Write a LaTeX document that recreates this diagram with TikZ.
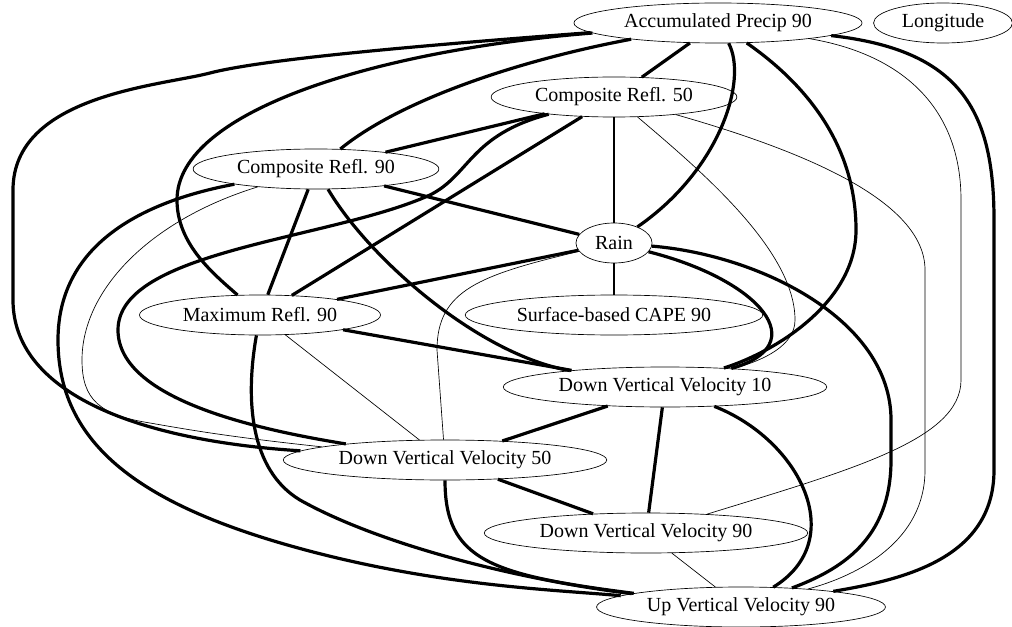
\documentclass[tikz,border=0pt]{standalone}
\usepackage{fontspec}
\setmainfont{Liberation Serif}
\usetikzlibrary{shapes.geometric}

\begin{document}
\begin{tikzpicture}[x=0.75pt, y=-0.75pt,
    varnode/.style={draw, ellipse, line width=0.5pt, inner xsep=6pt, inner ysep=2pt,
        minimum height=30pt, font=\fontsize{15}{18}\selectfont},
    strong/.style={line width=2.4pt},
    moderate/.style={line width=1.4pt},
    mild/.style={line width=0.9pt},
    weak/.style={line width=0.5pt}]
\useasboundingbox (0,0) rectangle (1012,627);
% draw variables
    \node[varnode] (ap) at (718,23) {Accumulated Precip 90};
    \node[varnode] (lon) at (943,23) {Longitude};
    \node[varnode] (cr50) at (614,97) {Composite Refl. 50};
    \node[varnode] (cr90) at (316,169) {Composite Refl. 90};
    \node[varnode] (rain) at (614,243) {Rain};
    \node[varnode] (mr90) at (260,315) {Maximum Refl. 90};
    \node[varnode] (cape) at (614,315) {Surface-based CAPE 90};
    \node[varnode] (dvv10) at (665,387) {Down Vertical Velocity 10};
    \node[varnode] (dvv50) at (445,460) {Down Vertical Velocity 50};
    \node[varnode] (dvv90) at (646,533) {Down Vertical Velocity 90};
    \node[varnode] (uvv90) at (741,607) {Up Vertical Velocity 90};
% links from accumulated precip
    \draw[strong] (ap) -- (cr50);
    \draw[strong] (ap) .. controls (748,80) and (720,170) .. (rain);
    \draw[strong] (ap) .. controls (800,80) and (856,140) .. (856,230) .. controls (856,300) and (780,350) .. (dvv10);
    \draw[weak] (ap) .. controls (905,55) and (961,110) .. (961,200) -- (961,380) .. controls (961,440) and (850,470) .. (dvv90);
    \draw[strong] (ap) .. controls (960,50) and (994,110) .. (994,220) -- (994,470) .. controls (994,560) and (900,580) .. (uvv90);
    \draw[strong] (ap) .. controls (400,47) and (260,60) .. (210,73) .. controls (160,86) and (13,95) .. (13,190) -- (13,300) .. controls (13,390) and (130,440) .. (dvv50);
    \draw[strong] (ap) .. controls (380,50) and (177,110) .. (177,200) .. controls (177,245) and (215,275) .. (mr90);
    \draw[strong] (ap) .. controls (520,60) and (400,100) .. (cr90);
% links from composite refl. 50
    \draw[strong] (cr50) -- (cr90);
    \draw[strong] (cr50) .. controls (470,135) and (470,175) .. (430,195) .. controls (330,240) and (118,250) .. (118,330) .. controls (118,400) and (260,430) .. (dvv50);
    \draw[strong] (cr50) -- (mr90);
    \draw[moderate] (cr50) -- (rain);
    \draw[weak] (cr50) .. controls (700,170) and (795,250) .. (795,320) .. controls (795,345) and (765,360) .. (dvv10);
    \draw[weak] (cr50) .. controls (800,150) and (925,200) .. (925,270) -- (925,470) .. controls (925,540) and (860,575) .. (uvv90);
% links from composite refl. 90
    \draw[strong] (cr90) -- (rain);
    \draw[strong] (cr90) -- (mr90);
    \draw[strong] (cr90) .. controls (370,260) and (480,355) .. (dvv10);
    \draw[strong] (cr90) .. controls (150,200) and (58,240) .. (58,340) .. controls (58,450) and (150,510) .. (317,553) .. controls (450,587) and (560,590) .. (uvv90);
    \draw[weak] (cr90) .. controls (150,220) and (82,290) .. (82,360) .. controls (82,400) and (100,415) .. (150,423) .. controls (190,430) and (230,437) .. (dvv50);
% links from rain
    \draw[strong] (rain) -- (mr90);
    \draw[mild] (rain) -- (cape);
    \draw[strong] (rain) .. controls (760,280) and (815,345) .. (dvv10);
    \draw[strong] (rain) .. controls (760,255) and (891,320) .. (891,420) -- (891,460) .. controls (891,540) and (840,570) .. (uvv90);
    \draw[weak] (rain) .. controls (480,275) and (437,290) .. (437,350) -- (dvv50);
% links from maximum refl. 90
    \draw[strong] (mr90) -- (dvv10);
    \draw[weak] (mr90) -- (dvv50);
    \draw[strong] (mr90) .. controls (245,400) and (250,470) .. (300,500) .. controls (380,545) and (520,580) .. (uvv90);
% links between velocities
    \draw[strong] (dvv10) -- (dvv50);
    \draw[strong] (dvv10) -- (dvv90);
    \draw[strong] (dvv10) .. controls (800,440) and (850,540) .. (uvv90);
    \draw[strong] (dvv50) -- (dvv90);
    \draw[strong] (dvv50) .. controls (445,560) and (490,575) .. (uvv90);
    \draw[weak] (dvv90) -- (uvv90);
\end{tikzpicture}
\end{document}
